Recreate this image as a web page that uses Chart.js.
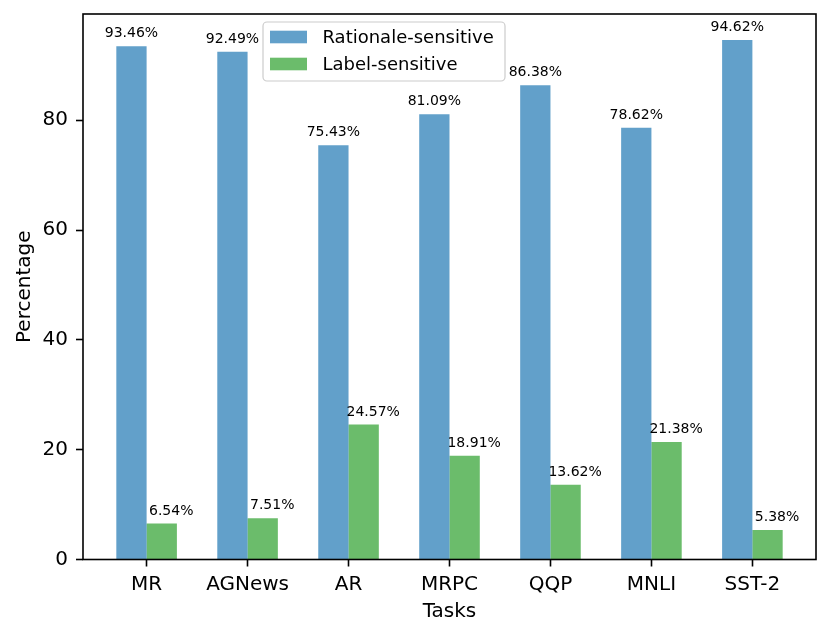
<!DOCTYPE html>
<html>
<head>
<meta charset="utf-8">
<script src="https://cdn.jsdelivr.net/npm/chart.js@4.4.0/dist/chart.umd.min.js"></script>
<style>
  html, body { margin: 0; padding: 0; background: #fff; }
  #wrap { width: 830px; height: 637px; }
</style>
</head>
<body>
<div id="wrap"><canvas id="taskChart" width="830" height="637"></canvas></div>
<script>
// values
var tasks = ['MR', 'AGNews', 'AR', 'MRPC', 'QQP', 'MNLI', 'SST-2'];
var rationaleSensitive = [93.46, 92.49, 75.43, 81.09, 86.38, 78.62, 94.62];
var labelSensitive = [6.54, 7.51, 24.57, 18.91, 13.62, 21.38, 5.38];
var yTicks = [0, 20, 40, 60, 80];

var FONT = 'DejaVu Sans';

// linear x axis so the spacing matches matplotlib's margins
function toPoints(values) {
    return values.map(function (v, i) { return { x: i, y: v }; });
}

// percent labels above each bar
var valueLabels = {
    id: 'valueLabels',
    afterDatasetsDraw: function (chart) {
        var ctx = chart.ctx;
        ctx.save();
        ctx.font = '14px "' + FONT + '"';
        ctx.fillStyle = '#000';
        ctx.textAlign = 'center';
        ctx.textBaseline = 'alphabetic';
        chart.data.datasets.forEach(function (ds, di) {
            var shift = di === 1 ? 9.5 : 0;
            chart.getDatasetMeta(di).data.forEach(function (bar, i) {
                ctx.fillText(ds.data[i].y.toFixed(2) + '%', bar.x + shift, bar.y - 9);
            });
        });
        ctx.restore();
    }
};

// box round the plot, like the axes spines
var frame = {
    id: 'frame',
    afterDraw: function (chart) {
        var a = chart.chartArea, ctx = chart.ctx;
        ctx.save();
        ctx.strokeStyle = '#000';
        ctx.lineWidth = 1.6;
        ctx.strokeRect(a.left, a.top, a.right - a.left, a.bottom - a.top);
        ctx.restore();
    }
};

// legend box drawn where matplotlib put it
var boxLegend = {
    id: 'boxLegend',
    afterDraw: function (chart) {
        var ctx = chart.ctx;
        var x = 263, y = 22, w = 242, h = 59, r = 4;
        ctx.save();
        ctx.beginPath();
        ctx.moveTo(x + r, y);
        ctx.arcTo(x + w, y, x + w, y + h, r);
        ctx.arcTo(x + w, y + h, x, y + h, r);
        ctx.arcTo(x, y + h, x, y, r);
        ctx.arcTo(x, y, x + w, y, r);
        ctx.closePath();
        ctx.fillStyle = 'rgba(255,255,255,0.8)';
        ctx.fill();
        ctx.strokeStyle = '#cccccc';
        ctx.lineWidth = 1.2;
        ctx.stroke();

        ctx.font = '18px "' + FONT + '"';
        ctx.textAlign = 'left';
        ctx.textBaseline = 'middle';
        chart.data.datasets.forEach(function (ds, i) {
            var cy = 37 + i * 27;
            ctx.fillStyle = ds.backgroundColor;
            ctx.fillRect(270, cy - 6.3, 37, 12.6);
            ctx.fillStyle = '#000';
            ctx.fillText(ds.label, 322.5, cy + 1);
        });
        ctx.restore();
    }
};

var ctx = document.getElementById('taskChart').getContext('2d');
var taskChart = new Chart(ctx, {
    type: 'bar',
    data: {
        datasets: [{
            label: 'Rationale-sensitive',
            data: toPoints(rationaleSensitive),
            backgroundColor: 'rgba(31, 119, 180, 0.7)'
        }, {
            label: 'Label-sensitive',
            data: toPoints(labelSensitive),
            backgroundColor: 'rgba(44, 160, 44, 0.7)'
        }]
    },
    options: {
        responsive: false,
        animation: false,
        categoryPercentage: 0.6,
        barPercentage: 1.0,
        layout: { padding: { left: 0, top: 14, right: 14, bottom: 0 } },
        plugins: {
            legend: { display: false },
            tooltip: { enabled: false }
        },
        scales: {
            x: {
                type: 'linear',
                offset: false,
                min: -0.63,
                max: 6.63,
                afterBuildTicks: function (scale) {
                    scale.ticks = tasks.map(function (t, i) { return { value: i }; });
                },
                afterFit: function (scale) {
                    scale.height = 77.5;
                    scale.paddingLeft = 0;
                    scale.paddingRight = 0;
                },
                ticks: {
                    autoSkip: false,
                    maxRotation: 0,
                    padding: 6,
                    color: '#000',
                    font: { family: FONT, size: 20 },
                    callback: function (v) { return tasks[v]; }
                },
                grid: {
                    offset: false,
                    drawOnChartArea: false,
                    drawTicks: true,
                    tickLength: 7,
                    tickWidth: 1.6,
                    tickColor: '#000'
                },
                border: { display: false },
                title: {
                    display: true,
                    text: 'Tasks',
                    color: '#000',
                    font: { family: FONT, size: 20 },
                    padding: { top: 0, bottom: 13 }
                }
            },
            y: {
                min: 0,
                max: 99.35,
                afterBuildTicks: function (scale) {
                    scale.ticks = yTicks.map(function (v) { return { value: v }; });
                },
                afterFit: function (scale) {
                    scale.width = 83;
                    scale.paddingTop = 0;
                    scale.paddingBottom = 0;
                },
                ticks: {
                    padding: 8,
                    color: '#000',
                    font: { family: FONT, size: 20 }
                },
                grid: {
                    drawOnChartArea: false,
                    drawTicks: true,
                    tickLength: 7,
                    tickWidth: 1.6,
                    tickColor: '#000'
                },
                border: { display: false },
                title: {
                    display: true,
                    text: 'Percentage',
                    color: '#000',
                    font: { family: FONT, size: 20 },
                    padding: { top: 13, bottom: 0 }
                }
            }
        }
    },
    plugins: [valueLabels, frame, boxLegend]
});
</script>
</body>
</html>
